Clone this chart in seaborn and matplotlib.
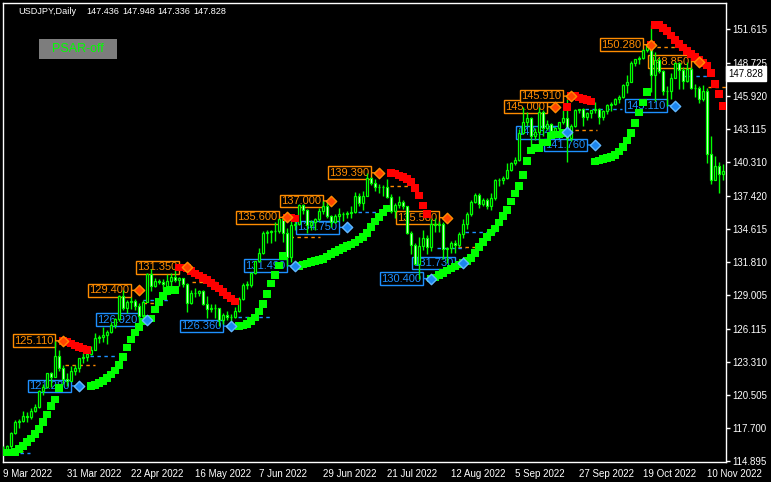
import numpy as np
import pandas as pd
import matplotlib
matplotlib.use("Agg")
import matplotlib.pyplot as plt
from matplotlib.patches import Rectangle
import seaborn as sns

# daily USDJPY bars, 9 Mar 2022 .. 16 Nov 2022 (one entry per bar)
open_ = [115.74, 115.86, 116.13, 117.30, 118.20, 118.30, 118.70, 118.60, 119.18, 119.48,
         120.82, 121.18, 122.34, 122.05, 123.84, 122.84, 121.83, 121.70, 122.52, 122.78,
         123.61, 123.72, 123.95, 124.33, 125.39, 125.41, 125.62, 125.88, 126.45, 126.97,
         128.90, 127.88, 128.42, 128.50, 128.10, 127.22, 128.43, 130.82, 129.73, 130.17,
         130.14, 129.12, 130.20, 130.56, 130.27, 130.44, 129.94, 128.30, 129.21, 129.15,
         129.38, 128.23, 127.78, 127.86, 127.89, 126.85, 127.33, 127.10, 127.11, 127.63,
         128.68, 129.86, 129.88, 130.87, 131.91, 132.61, 134.24, 134.36, 134.41, 134.42,
         135.45, 134.29, 132.23, 134.97, 135.06, 136.65, 136.23, 134.93, 135.21, 135.45,
         136.13, 136.60, 135.73, 135.21, 135.68, 135.86, 135.93, 135.99, 136.09, 137.42,
         136.86, 137.42, 138.97, 138.55, 138.17, 138.19, 138.18, 137.37, 136.12, 136.68,
         136.95, 136.56, 134.26, 133.25, 131.61, 133.19, 133.86, 133.06, 135.00, 134.97,
         135.08, 132.90, 133.00, 133.45, 133.28, 134.20, 135.05, 135.88, 136.92, 137.48,
         136.78, 137.11, 136.58, 137.21, 138.76, 138.74, 138.96, 139.66, 140.21, 140.52,
         142.80, 143.75, 144.09, 142.54, 142.83, 144.57, 143.17, 143.51, 142.92, 143.20,
         143.70, 144.08, 142.38, 143.34, 144.74, 144.78, 144.17, 144.44, 144.73, 144.83,
         144.12, 144.65, 145.14, 145.28, 145.70, 145.81, 146.87, 147.15, 148.69, 149.03,
         149.19, 149.87, 150.14, 147.69, 148.98, 148.01, 146.35, 146.34, 147.49, 148.71,
         148.16, 147.23, 148.22, 146.62, 146.58, 145.67, 146.38, 140.97, 138.77, 139.95,
         139.28]
high = [116.19, 116.24, 117.37, 118.42, 118.45, 119.12, 119.03, 119.41, 119.71, 120.95,
        121.41, 122.40, 122.44, 125.09, 124.31, 123.05, 122.39, 122.94, 123.05, 123.65,
        124.05, 124.04, 124.69, 125.77, 125.62, 126.31, 126.00, 126.68, 127.06, 128.99,
        129.40, 128.61, 128.83, 128.63, 128.35, 128.57, 130.90, 131.25, 130.41, 130.37,
        130.37, 130.80, 130.89, 131.35, 130.52, 130.46, 130.03, 129.44, 129.60, 129.45,
        129.45, 128.92, 128.20, 128.20, 127.90, 127.44, 127.61, 127.40, 127.97, 128.82,
        130.05, 130.17, 130.95, 131.93, 133.00, 134.47, 134.57, 134.55, 135.20, 135.46,
        135.60, 134.68, 135.44, 135.43, 136.71, 136.71, 136.35, 135.38, 135.58, 136.38,
        137.00, 136.88, 135.83, 135.85, 136.39, 136.05, 136.13, 136.57, 137.75, 137.68,
        137.87, 139.39, 139.06, 138.88, 138.47, 138.38, 138.85, 137.58, 136.80, 137.46,
        137.08, 136.59, 134.48, 133.40, 133.90, 134.54, 134.07, 135.50, 135.58, 135.27,
        135.18, 133.10, 133.62, 133.71, 134.39, 135.46, 136.07, 137.07, 137.67, 137.65,
        137.28, 137.24, 137.64, 138.90, 138.98, 139.08, 140.23, 140.33, 140.75, 143.08,
        144.99, 144.55, 144.12, 143.18, 144.96, 144.70, 143.89, 143.62, 143.31, 143.74,
        144.70, 145.90, 143.51, 144.80, 144.80, 144.86, 144.57, 144.77, 145.39, 144.91,
        144.76, 145.24, 145.41, 145.77, 145.99, 146.96, 147.67, 148.86, 149.09, 149.30,
        149.90, 150.29, 151.94, 149.70, 149.11, 148.13, 146.75, 147.87, 148.83, 148.82,
        148.39, 148.85, 148.37, 146.96, 146.73, 146.85, 146.60, 142.48, 140.80, 140.33,
        140.10]
low = [115.61, 115.68, 116.00, 117.23, 117.71, 118.24, 118.17, 118.45, 119.05, 119.38,
       120.50, 121.08, 121.18, 122.00, 122.56, 121.45, 121.28, 121.66, 122.18, 122.43,
       123.22, 123.37, 123.91, 124.30, 124.94, 124.97, 124.83, 125.80, 126.18, 126.82,
       127.71, 127.48, 127.80, 127.70, 126.94, 127.01, 128.38, 129.31, 129.72, 129.93,
       129.55, 129.45, 129.80, 130.10, 129.77, 129.70, 127.52, 128.22, 128.80, 128.88,
       128.17, 127.02, 127.53, 127.04, 126.36, 126.55, 126.90, 126.80, 127.05, 127.55,
       128.60, 129.53, 129.70, 130.75, 131.80, 132.50, 133.43, 133.40, 133.59, 134.27,
       133.50, 131.49, 131.85, 134.55, 134.95, 135.89, 134.27, 134.53, 134.56, 135.27,
       135.91, 135.51, 134.75, 135.16, 135.29, 135.29, 135.51, 135.53, 135.99, 136.56,
       136.27, 137.38, 138.35, 137.86, 137.65, 137.40, 137.25, 135.95, 135.56, 136.38,
       136.28, 134.21, 132.52, 131.60, 130.40, 132.87, 132.53, 132.77, 134.37, 134.40,
       132.03, 131.73, 132.55, 132.57, 133.12, 133.85, 134.65, 135.74, 136.81, 136.38,
       136.53, 136.33, 136.19, 137.06, 138.26, 138.41, 138.85, 139.58, 140.03, 140.42,
       142.70, 143.34, 141.50, 142.20, 141.96, 142.55, 143.07, 142.64, 142.79, 143.10,
       143.52, 140.34, 142.09, 143.27, 144.49, 143.38, 143.91, 144.05, 144.51, 143.53,
       143.89, 144.41, 144.62, 145.17, 145.29, 145.72, 146.15, 147.09, 148.46, 148.65,
       149.08, 149.62, 146.23, 145.53, 147.87, 146.02, 145.11, 145.70, 147.45, 146.55,
       146.54, 147.11, 146.55, 145.85, 145.30, 145.50, 140.22, 138.48, 138.74, 137.68,
       138.78]
close = [115.86, 116.13, 117.30, 118.20, 118.30, 118.70, 118.60, 119.18, 119.48, 120.82,
         121.18, 122.34, 122.05, 123.84, 122.84, 121.83, 121.70, 122.52, 122.78, 123.61,
         123.72, 123.95, 124.33, 125.39, 125.41, 125.62, 125.88, 126.45, 126.97, 128.90,
         127.88, 128.42, 128.50, 128.10, 127.22, 128.43, 130.82, 129.73, 130.17, 130.14,
         129.92, 130.20, 130.56, 130.27, 130.44, 129.94, 128.30, 129.21, 129.15, 129.38,
         128.23, 127.78, 127.86, 127.89, 126.85, 127.33, 127.10, 127.11, 127.63, 128.68,
         129.86, 129.88, 130.87, 131.91, 132.61, 134.24, 134.36, 134.41, 134.42, 135.45,
         134.29, 132.23, 134.97, 135.06, 136.65, 136.23, 134.93, 135.21, 135.45, 136.13,
         136.60, 135.73, 135.21, 135.68, 135.86, 135.93, 135.99, 136.09, 137.42, 136.86,
         137.42, 138.97, 138.55, 138.17, 138.19, 138.18, 137.37, 136.12, 136.68, 136.95,
         136.56, 134.26, 133.25, 131.61, 133.19, 133.86, 133.06, 135.00, 134.97, 135.08,
         132.90, 133.00, 133.45, 133.28, 134.20, 135.05, 135.88, 136.92, 137.48, 136.78,
         137.11, 136.58, 137.21, 138.76, 138.74, 138.96, 139.66, 140.21, 140.52, 142.80,
         143.75, 144.09, 142.54, 142.83, 144.57, 143.17, 143.51, 142.92, 143.20, 143.70,
         144.08, 142.38, 143.34, 144.74, 144.78, 144.17, 144.44, 144.73, 144.83, 144.12,
         144.65, 145.14, 145.28, 145.70, 145.81, 146.87, 147.15, 148.69, 149.03, 149.19,
         149.87, 150.14, 147.69, 148.98, 148.01, 146.35, 146.34, 147.49, 148.71, 148.16,
         147.23, 148.22, 146.62, 146.58, 145.67, 146.38, 140.97, 138.77, 139.95, 139.28,
         139.52]

date_labels = ["9 Mar 2022", "31 Mar 2022", "22 Apr 2022", "16 May 2022", "7 Jun 2022",
               "29 Jun 2022", "21 Jul 2022", "12 Aug 2022", "5 Sep 2022", "27 Sep 2022",
               "19 Oct 2022", "10 Nov 2022"]
price_ticks = [151.615, 148.725, 145.920, 143.115, 140.310, 137.420, 134.615,
               131.810, 129.005, 126.115, 123.310, 120.505, 117.700, 114.895]

# PSAR reversal marks (bar index, price, label)
top_bar = [15, 34, 46, 71, 82, 94, 111, 138, 142, 162, 174]
top_price = [125.11, 129.40, 131.35, 135.60, 137.00, 139.39, 135.58, 145.00, 145.91, 150.28, 148.85]
top_text = ["125.110", "129.400", "131.350", "135.600", "137.000", "139.390",
            "135.580", "145.000", "145.910", "150.280", "148.850"]
bot_bar = [19, 36, 57, 73, 86, 107, 115, 141, 148, 168]
bot_price = [121.28, 126.92, 126.36, 131.49, 134.75, 130.40, 131.73, 142.84, 141.76, 145.11]
bot_text = ["121.280", "126.920", "126.360", "131.490", "134.750", "130.400",
            "131.730", "142.840", "141.760", "145.110"]

# short dashed level lines (start bar, end bar, price)
odash_start = [2.5, 15.5, 35, 47.25, 71.75, 96.75, 113.75, 141.25, 161.75, 176.25]
odash_end = [5, 23, 39.75, 53.75, 79.25, 102.25, 118.75, 148.5, 169.75, 181]
odash_price = [115.75, 123.06, 128.33, 130.11, 133.94, 138.27, 133.05, 143.0, 150.08, 146.7]
bdash_start = [4.25, 21.75, 35, 58.75, 88.75, 108.5, 115.5, 145.5, 169.75]
bdash_end = [6.75, 28, 41.75, 66.75, 95, 115.5, 123, 154.75, 176.25]
bdash_price = [115.58, 123.82, 128.58, 127.13, 136.06, 133.0, 134.36, 144.8, 147.6]

last_price = 147.828
header = ["USDJPY,Daily", "147.436", "147.948", "147.336", "147.828"]
header_x = [18, 86, 122, 157, 193]

LIME = "#00ff00"
ORANGE = "#ff8c00"
BLUE = "#1e90ff"


def parabolic_sar(hi, lo, step=0.02, amax=0.2):
    n = len(hi)
    sar = np.zeros(n)
    up = np.ones(n, dtype=bool)
    bull, af, ep = True, step, hi[0]
    sar[0] = lo[0]
    for i in range(1, n):
        s = sar[i - 1] + af * (ep - sar[i - 1])
        if bull:
            s = min(s, lo[i - 1], lo[max(i - 2, 0)])
            if lo[i] < s:
                bull, s, ep, af = False, ep, lo[i], step
            elif hi[i] > ep:
                ep, af = hi[i], min(af + step, amax)
        else:
            s = max(s, hi[i - 1], hi[max(i - 2, 0)])
            if hi[i] > s:
                bull, s, ep, af = True, ep, hi[i], step
            elif lo[i] < ep:
                ep, af = lo[i], min(af + step, amax)
        sar[i] = s
        up[i] = bull
    return sar, up


df = pd.DataFrame({"open": open_, "high": high, "low": low, "close": close})
df["bar"] = np.arange(len(df))
sar, up = parabolic_sar(df["high"].values, df["low"].values)
df["sar"] = sar
df["trend"] = np.where(up, "up", "down")

sns.set_style("dark", {"axes.facecolor": "black", "figure.facecolor": "black"})
plt.rcParams["font.family"] = ["Liberation Sans", "DejaVu Sans"]

fig = plt.figure(figsize=(7.71, 4.82), dpi=100, facecolor="black")
ax = fig.add_axes([3 / 771, 20 / 482, 723 / 771, 459 / 482])
ax.set_facecolor("black")

# dashed levels
for s, e, p in zip(odash_start, odash_end, odash_price):
    ax.plot([s, e], [p, p], color=ORANGE, lw=1, ls=(0, (2.5, 2.5)), zorder=2)
for s, e, p in zip(bdash_start, bdash_end, bdash_price):
    ax.plot([s, e], [p, p], color=BLUE, lw=1, ls=(0, (2.5, 2.5)), zorder=2)

# reversal labels
for b, p, t in zip(top_bar, top_price, top_text):
    ax.annotate(t, xy=(b, p), xytext=(-7, 0), textcoords="offset points",
                ha="right", va="center", color=ORANGE, fontsize=8, zorder=2,
                bbox=dict(boxstyle="square,pad=0.12", fc="black", ec=ORANGE, lw=1),
                arrowprops=dict(arrowstyle="-", color=ORANGE, lw=1, shrinkA=0, shrinkB=0))
for b, p, t in zip(bot_bar, bot_price, bot_text):
    ax.annotate(t, xy=(b, p), xytext=(-7, 0), textcoords="offset points",
                ha="right", va="center", color=BLUE, fontsize=8, zorder=2,
                bbox=dict(boxstyle="square,pad=0.12", fc="black", ec=BLUE, lw=1),
                arrowprops=dict(arrowstyle="-", color=BLUE, lw=1, shrinkA=0, shrinkB=0))

# candles
ax.vlines(df["bar"], df["low"], df["high"], color=LIME, lw=1, zorder=3)
bull = df["close"] >= df["open"]
body_lo = df[["open", "close"]].min(axis=1)
body_h = (df["close"] - df["open"]).abs().clip(lower=0.04)
ax.bar(df["bar"], body_h, bottom=body_lo, width=0.55,
       color=np.where(bull, "black", "white"), edgecolor=LIME, linewidth=0.9, zorder=3)

# parabolic SAR dots
sns.scatterplot(data=df, x="bar", y="sar", hue="trend",
                palette={"up": LIME, "down": "#ff0000"}, marker="s", s=30,
                linewidth=0, legend=False, ax=ax, zorder=4)

# reversal diamonds
ax.scatter(top_bar, top_price, marker="D", s=28, c="#ff4500", edgecolors=ORANGE,
           linewidths=1, zorder=5)
ax.scatter(bot_bar, bot_price, marker="D", s=28, c="#1c86ee", edgecolors="#63b8ff",
           linewidths=1, zorder=5)

ax.set_xlim(0, 180.75)
ax.set_ylim(114.81, 153.825)
ax.set_xlabel("")
ax.set_ylabel("")
ax.grid(False)

ax.yaxis.tick_right()
ax.set_yticks(price_ticks)
ax.set_yticklabels([f"{v:.3f}" for v in price_ticks])
ax.set_xticks(np.arange(len(date_labels)) * 16)
ax.set_xticklabels(date_labels, ha="left")
ax.tick_params(axis="y", colors="white", labelcolor="white", length=3, width=1,
               direction="out", labelsize=7, pad=1.5, right=True, left=False)
ax.tick_params(axis="x", colors="white", labelcolor="white", length=4, width=1,
               direction="out", labelsize=7, pad=1)
for sp in ax.spines.values():
    sp.set_visible(True)
    sp.set_color("white")
    sp.set_linewidth(1)

ax.annotate(f"{last_price:.3f}", xy=(1, last_price), xycoords=("axes fraction", "data"),
            xytext=(2, 0), textcoords="offset points", ha="left", va="center",
            fontsize=7, color="black",
            bbox=dict(boxstyle="square,pad=0.25", fc="white", ec="white"))

for t, x in zip(header, header_x):
    fig.text(x / 771, 1 - 11 / 482, t, color="white", fontsize=6.6, va="center", ha="left")

fig.add_artist(Rectangle((39 / 771, 1 - 59 / 482), 78 / 771, 20 / 482,
                         transform=fig.transFigure, fc="#7d7d7d", ec="none"))
fig.text(78 / 771, 1 - 49 / 482, "PSAR-off", color=LIME, fontsize=9, va="center", ha="center")

fig.savefig("out.png", dpi=100, facecolor="black")
